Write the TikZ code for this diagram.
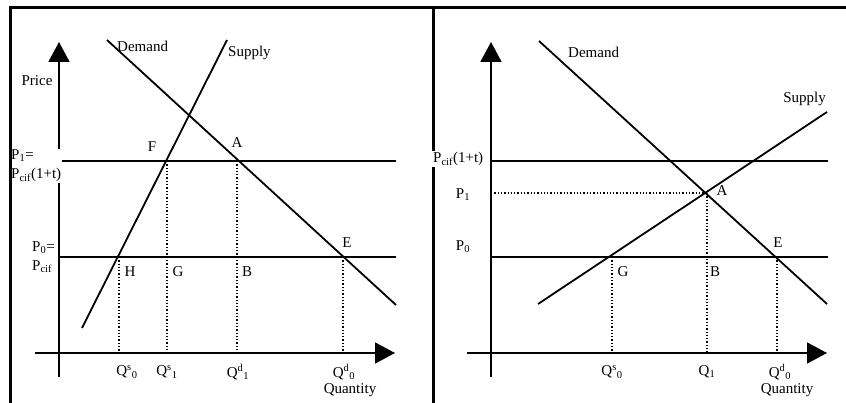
\documentclass[tikz,border=0pt]{standalone}
\usepackage{fontspec}
\setmainfont{Liberation Serif}
\usetikzlibrary{arrows.meta}

\begin{document}
\begin{tikzpicture}[
  x=1pt, y=-1pt,
  font=\fontsize{15}{19}\selectfont,
  lbl/.style={inner sep=1pt},
  frame/.style={line width=3pt},
  curve/.style={line width=1.8pt},
  guide/.style={dotted, line width=1.3pt},
  axis/.style={line width=1.8pt, -{Triangle[length=20pt, width=21pt]}}
]
  \useasboundingbox (0,0) rectangle (846,403);

  % table frame
  \coordinate (tl) at (10,8);
  \coordinate (tr) at (846,8);
  \coordinate (bl) at (10,403);
  \coordinate (tm) at (433,8);
  \coordinate (bm) at (433,403);
  \draw[frame] (tm) -- (bm);

  % ---- left panel ----
  \coordinate (yL0) at (59,377);  \coordinate (yL1) at (59,42);
  \coordinate (xL0) at (35,353);  \coordinate (xL1) at (395,353);
  \coordinate (p1L0) at (59,161); \coordinate (p1L1) at (396,161);
  \coordinate (p0L0) at (59,257); \coordinate (p0L1) at (396,257);
  \coordinate (dL0) at (107,40);  \coordinate (dL1) at (396,305);
  \coordinate (sL0) at (82,328);  \coordinate (sL1) at (227,40);
  \coordinate (ptF) at (167,161); \coordinate (ptA) at (237,161);
  \coordinate (ptH) at (119,257); \coordinate (ptE) at (343,257);
  \coordinate (qH) at (119,353);  \coordinate (qF) at (167,353);
  \coordinate (qA) at (237,353);  \coordinate (qE) at (343,353);

  \draw[guide] (ptH) -- (qH);
  \draw[guide] (ptF) -- (qF);
  \draw[guide] (ptA) -- (qA);
  \draw[guide] (ptE) -- (qE);
  \draw[axis] (yL0) -- (yL1);
  \draw[axis] (xL0) -- (xL1);
  \draw[curve] (p1L0) -- (p1L1);
  \draw[curve] (p0L0) -- (p0L1);
  \draw[curve] (dL0) -- (dL1);
  \draw[curve] (sL0) -- (sL1);

  \node[lbl, anchor=west] (demL) at (116,46) {Demand};
  \node[lbl, anchor=west] (supL) at (227,53) {Supply};
  \node[lbl] (price) at (37,81) {Price};
  \node[lbl, anchor=west, align=left, fill=white] (p1L) at (10,166)
    {P\textsubscript{1}=\\P\textsubscript{cif}(1+t)};
  \node[lbl, anchor=west, align=left] (p0L) at (31,257)
    {P\textsubscript{0}=\\P\textsubscript{cif}};
  \node[lbl] (labF) at (152,147) {F};
  \node[lbl] (labA) at (237,143) {A};
  \node[lbl] (labH) at (130,272) {H};
  \node[lbl] (labG) at (178,272) {G};
  \node[lbl] (labB) at (247,272) {B};
  \node[lbl] (labE) at (347,243) {E};
  \node[lbl] (qs0L) at (127,372) {Q\textsuperscript{s}\textsubscript{0}};
  \node[lbl] (qs1L) at (167,372) {Q\textsuperscript{s}\textsubscript{1}};
  \node[lbl] (qd1L) at (238,372) {Q\textsuperscript{d}\textsubscript{1}};
  \node[lbl] (qd0L) at (344,372) {Q\textsuperscript{d}\textsubscript{0}};
  \node[lbl] (quaL) at (350,390) {Quantity};

  % ---- right panel ----
  \coordinate (yR0) at (491,377);  \coordinate (yR1) at (491,42);
  \coordinate (xR0) at (467,353);  \coordinate (xR1) at (827,353);
  \coordinate (ptR0) at (491,161); \coordinate (ptR1) at (828,161);
  \coordinate (p0R0) at (491,257); \coordinate (p0R1) at (828,257);
  \coordinate (dR0) at (539,41);   \coordinate (dR1) at (827,304);
  \coordinate (sR0) at (538,304);  \coordinate (sR1) at (827,112);
  \coordinate (p1R) at (491,193);
  \coordinate (ptAR) at (707,193); \coordinate (ptGR) at (612,257);
  \coordinate (ptER) at (777,257);
  \coordinate (qAR) at (707,353);  \coordinate (qGR) at (612,353);
  \coordinate (qER) at (777,353);

  \draw[guide] (p1R) -- (ptAR);
  \draw[guide] (ptAR) -- (qAR);
  \draw[guide] (ptGR) -- (qGR);
  \draw[guide] (ptER) -- (qER);
  \draw[axis] (yR0) -- (yR1);
  \draw[axis] (xR0) -- (xR1);
  \draw[curve] (ptR0) -- (ptR1);
  \draw[curve] (p0R0) -- (p0R1);
  \draw[curve] (dR0) -- (dR1);
  \draw[curve] (sR0) -- (sR1);

  \node[lbl, anchor=west] (demR) at (567,52) {Demand};
  \node[lbl, anchor=east] (supR) at (827,99) {Supply};
  \node[lbl, anchor=west, fill=white] (ptaxR) at (432,159) {P\textsubscript{cif}(1+t)};
  \node[lbl] (p1Rl) at (463,195) {P\textsubscript{1}};
  \node[lbl] (p0Rl) at (463,247) {P\textsubscript{0}};
  \node[lbl] (labAR) at (722,191) {A};
  \node[lbl] (labGR) at (623,272) {G};
  \node[lbl] (labBR) at (715,272) {B};
  \node[lbl] (labER) at (778,243) {E};
  \node[lbl] (qs0R) at (612,372) {Q\textsuperscript{s}\textsubscript{0}};
  \node[lbl] (q1R) at (707,372) {Q\textsubscript{1}};
  \node[lbl] (qd0R) at (780,372) {Q\textsuperscript{d}\textsubscript{0}};
  \node[lbl] (quaR) at (787,390) {Quantity};

  % outer frame on top of the left labels
  \draw[frame] (tr) -- (tl) -- (bl);
\end{tikzpicture}
\end{document}
